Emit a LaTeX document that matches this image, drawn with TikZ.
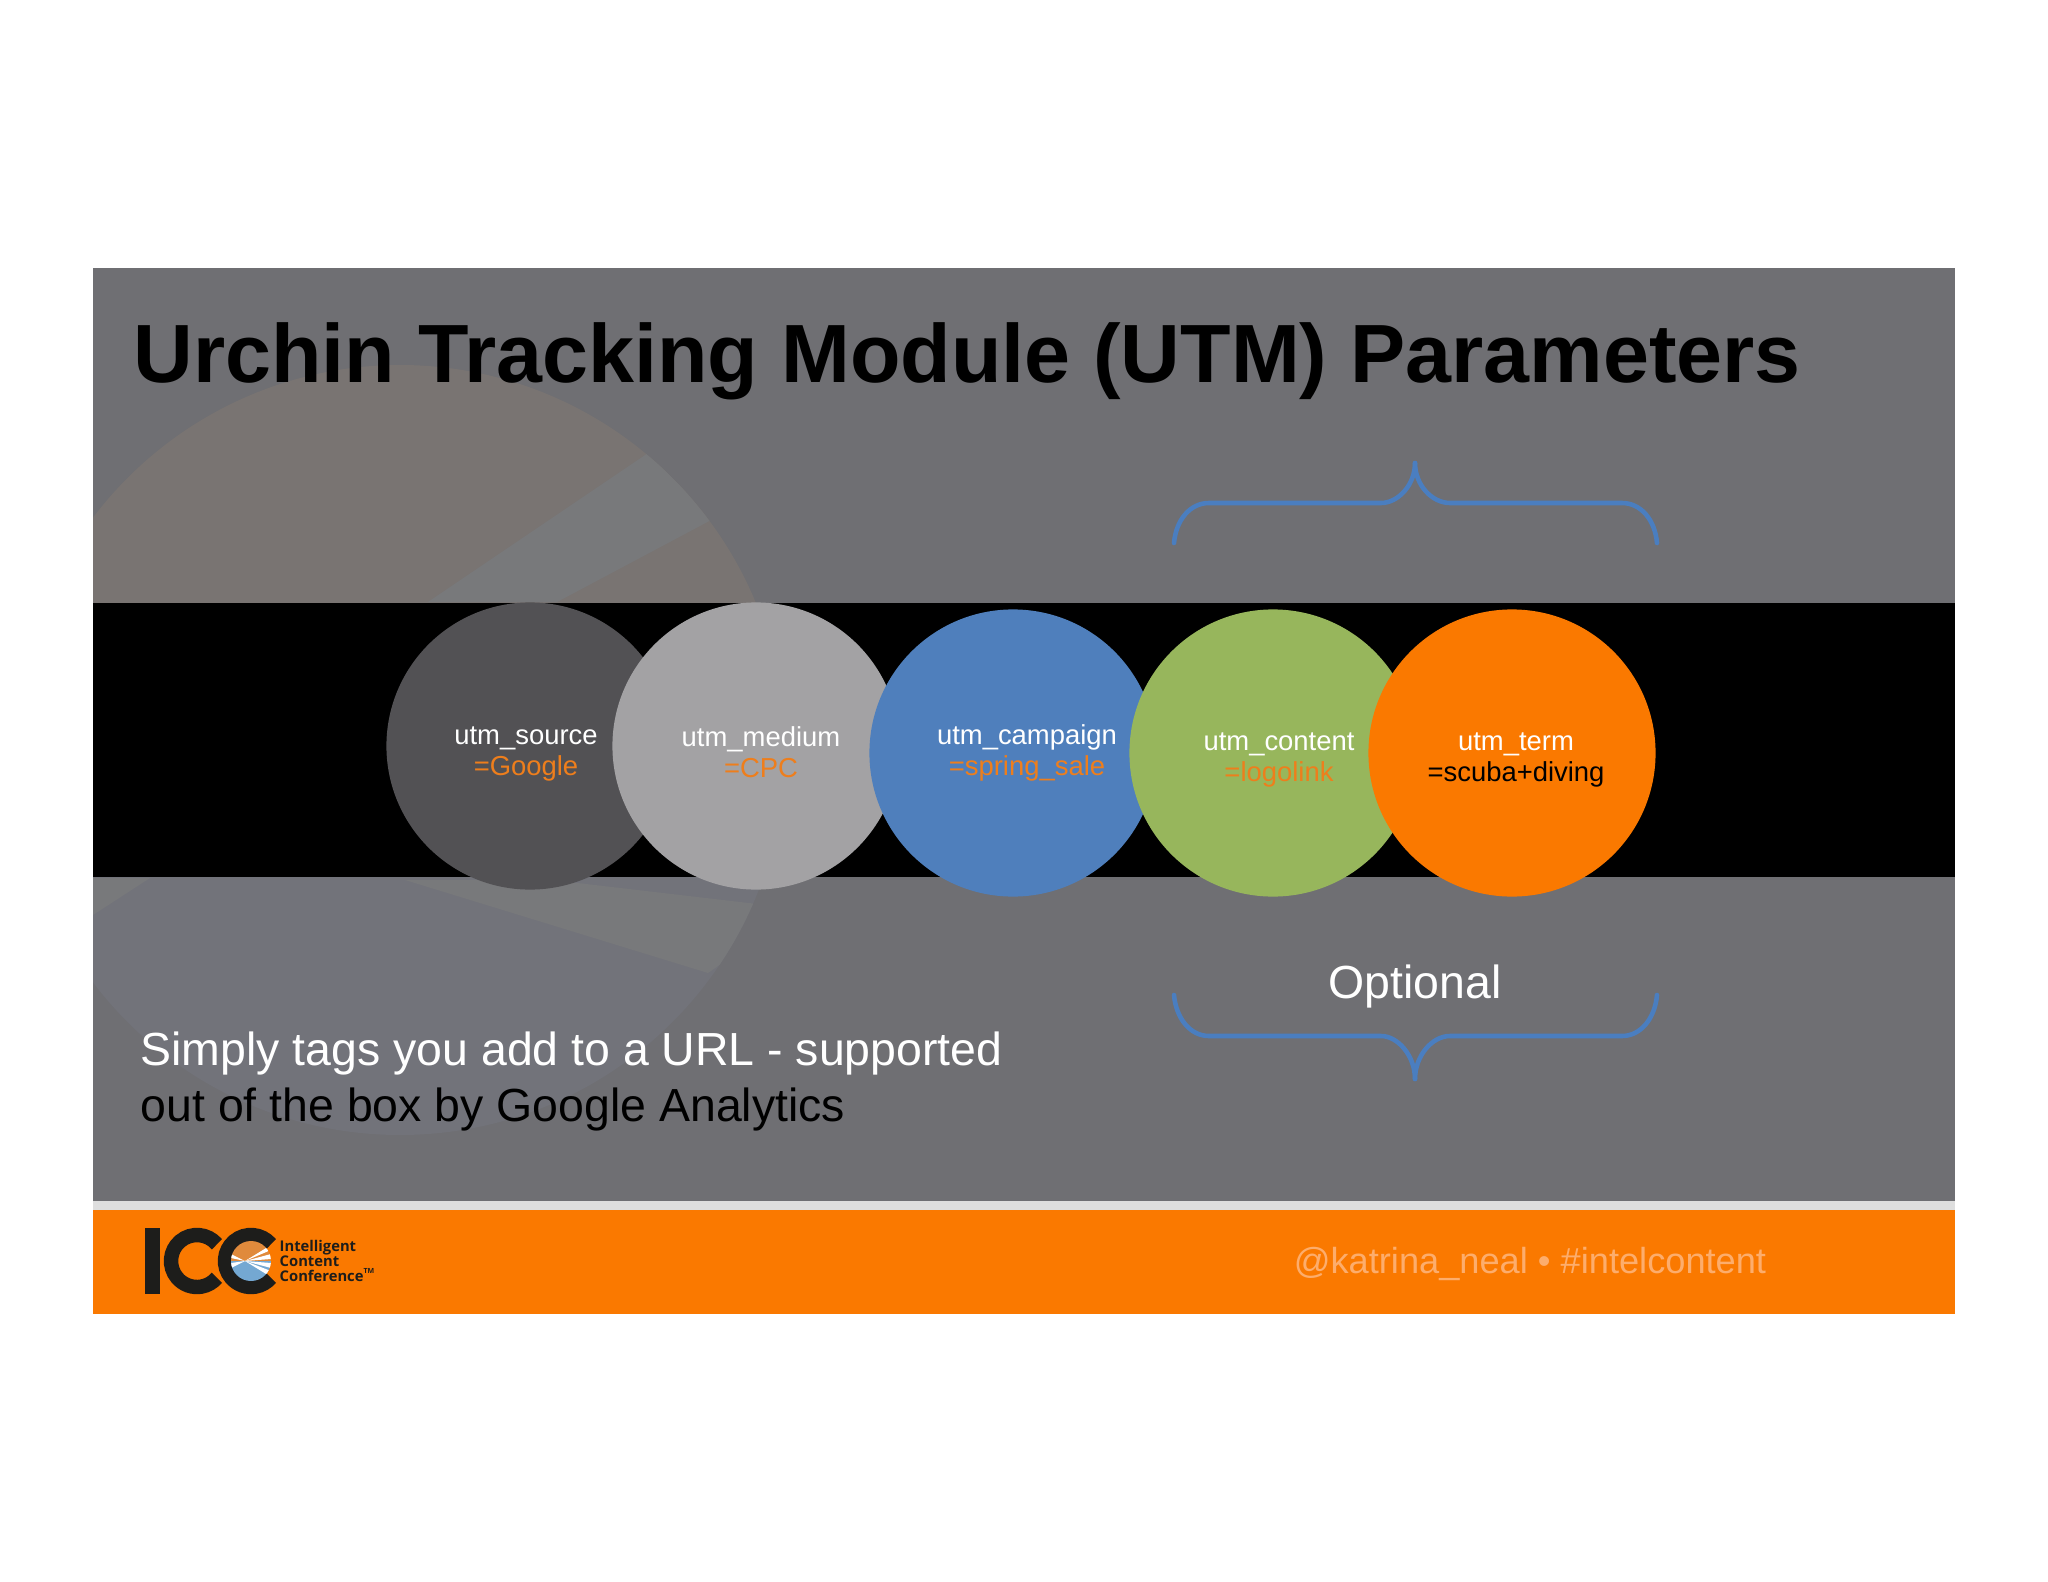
\documentclass[tikz,border=0pt]{standalone}
\usepackage{fontspec}
\setmainfont{Liberation Sans}
\newfontfamily\logofont{Open Sans}
\usepackage{tikz}

\definecolor{slidegrey}{HTML}{6F6F73}
\definecolor{pietan}{HTML}{797472}
\definecolor{pieblue}{HTML}{72737A}
\definecolor{piepale}{HTML}{78797B}
\definecolor{stripgrey}{HTML}{DEDEDE}
\definecolor{footorange}{HTML}{FA7900}
\definecolor{footpale}{HTML}{FDAD6C}
\definecolor{valorange}{HTML}{EE7E1C}
\definecolor{sourcegrey}{HTML}{525154}
\definecolor{mediumgrey}{HTML}{A3A2A4}
\definecolor{campaignblue}{HTML}{4F7FBC}
\definecolor{contentgreen}{HTML}{97B65C}
\definecolor{bracecol}{HTML}{4A7EC0}
\definecolor{logoblack}{HTML}{1D1D1B}
\definecolor{sunorange}{HTML}{E08A3C}
\definecolor{sunblue}{HTML}{74A8D2}

\tikzset{
    param/.style={circle, minimum size=2.87cm, inner sep=0pt},
    paramtext/.style={align=center, inner sep=0pt, text=white, font=\fontsize{7.8}{8.9}\selectfont},
    bodytext/.style={anchor=base west, inner sep=0pt, font=\fontsize{13.2}{15}\selectfont},
    curly/.style={draw=bracecol, line width=1.3pt, line cap=round},
    logoarc/.style={draw=logoblack, line width=4.1pt},
    logotext/.style={anchor=base west, inner sep=0pt, font=\fontsize{4.2}{4.27}\selectfont\logofont\bfseries, text=logoblack}
}

\begin{document}
\begin{tikzpicture}[x=0.01cm, y=-0.01cm]
        \useasboundingbox (0,0) rectangle (2048,1582);

        % Slide background and the faint pie behind it
        \fill[slidegrey] (93,268) rectangle (1955,1201);
        \begin{scope}
            \clip (93,268) rectangle (1955,1201);
            \clip (400,750) circle (385);
            \fill[pietan] (0,268) rectangle (900,745);
            \fill[pieblue] (0,745) rectangle (900,1201);
            \fill[piepale] (428,602) -- (660,445) -- (730,510) -- (557,602) -- cycle;
            \fill[piepale] (405,880) -- (708,973) -- (800,909) -- (552,880) -- cycle;
            \fill[piepale] (93,878) -- (150,878) -- (93,915) -- cycle;
        \end{scope}

        % Bands
        \fill[black] (93,603) rectangle (1955,877);
        \fill[stripgrey] (93,1201) rectangle (1955,1210);
        \fill[footorange] (93,1210) rectangle (1955,1314);

        % Title and texts
        \node[anchor=base west, inner sep=0pt, font=\fontsize{23.5}{28}\selectfont\bfseries] (title) at (133,383) {Urchin Tracking Module (UTM) Parameters};
        \node[bodytext, text=white] (tagsone) at (140,1065) {Simply tags you add to a URL - supported};
        \node[bodytext, text=black] (tagstwo) at (140,1121) {out of the box by Google Analytics};
        \node[bodytext, text=white, anchor=base] (optional) at (1415,998) {Optional};
        \node[bodytext, text=footpale, anchor=base, font=\fontsize{10.3}{12}\selectfont] (handle) at (1530,1273) {@katrina\_neal • \#intelcontent};

        % The parameters, each one over the one before
        \node[param, fill=sourcegrey] (source) at (530,746) {};
        \node[param, fill=mediumgrey] (medium) at (756,746) {};
        \node[param, fill=campaignblue] (campaign) at (1013,753) {};
        \node[param, fill=contentgreen] (content) at (1273,753) {};
        \node[param, fill=footorange] (term) at (1512,753) {};

        \node[paramtext] (sourcetext) at (526,754) {utm\_source\\\textcolor{valorange}{=Google}};
        \node[paramtext] (mediumtext) at (761,752) {utm\_medium\\\textcolor{valorange}{=CPC}};
        \node[paramtext] (campaigntext) at (1027,753) {utm\_campaign\\\textcolor{valorange}{=spring\_sale}};
        \node[paramtext] (contenttext) at (1279,760) {utm\_content\\\textcolor{valorange}{=logolink}};
        \node[paramtext] (termtext) at (1516,760) {utm\_term\\\textcolor{black}{=scuba+diving}};

        % Braces
        \draw[curly] (1174,543) .. controls (1176,520) and (1190,503) .. (1209,503) -- (1381,503) .. controls (1398,503) and (1415,485) .. (1415,463);
        \draw[curly] (1415,463) .. controls (1415,485) and (1432,503) .. (1450,503) -- (1622,503) .. controls (1641,503) and (1655,520) .. (1657,543);
        \draw[curly] (1174,995) .. controls (1176,1018) and (1190,1036) .. (1209,1036) -- (1381,1036) .. controls (1398,1036) and (1415,1056) .. (1415,1079);
        \draw[curly] (1415,1079) .. controls (1415,1056) and (1432,1036) .. (1450,1036) -- (1622,1036) .. controls (1641,1036) and (1655,1018) .. (1657,995);

        % Logo
        \fill[logoblack] (145,1228) rectangle (160,1294);
        \draw[logoarc] (197,1261) ++(-40:26) arc[start angle=-40, end angle=-320, radius=26];
        \draw[logoarc] (251,1261) ++(-40:26) arc[start angle=-40, end angle=-320, radius=26];
        \begin{scope}
            \clip (251,1261) circle (20);
            \fill[sunorange] (231,1241) rectangle (271,1261);
            \fill[sunblue] (231,1261) rectangle (271,1281);
            \fill[white] (245,1261) -- (271,1245) -- (271,1250) -- cycle;
            \fill[white] (245,1261) -- (271,1254) -- (271,1259) -- cycle;
            \fill[white] (245,1261) -- (271,1263) -- (271,1268) -- cycle;
            \fill[white] (245,1261) -- (271,1271) -- (271,1277) -- cycle;
            \fill[white] (245,1261) -- (231,1254) -- (231,1258) -- cycle;
            \fill[white] (245,1261) -- (231,1263) -- (231,1268) -- cycle;
        \end{scope}
        \node[logotext] (logoone) at (279,1251) {Intelligent};
        \node[logotext] (logotwo) at (279,1266) {Content};
        \node[logotext] (logothree) at (279,1281) {Conference\textsuperscript{\fontsize{2}{2}\selectfont TM}};

\end{tikzpicture}
\end{document}
